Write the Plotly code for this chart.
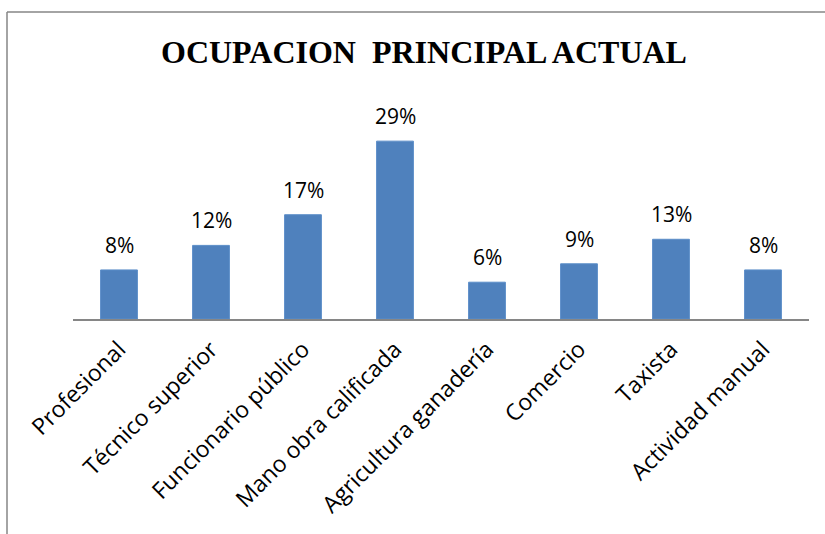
import plotly.graph_objects as go

categories = ["Profesional", "Técnico superior", "Funcionario público", "Mano obra calificada",
              "Agricultura ganadería", "Comercio", "Taxista", "Actividad manual"]
values = [8, 12, 17, 29, 6, 9, 13, 8]
labels = ["8%", "12%", "17%", "29%", "6%", "9%", "13%", "8%"]

W, H = 825, 534
L, R, T, B = 73, 16, 135, 215
pw, ph = W - L - R, H - T - B

fig = go.Figure(go.Bar(
    x=categories, y=values,
    marker=dict(color="#4F81BD", line=dict(color="#5B8DC8", width=1)),
    cliponaxis=False, hoverinfo="skip",
))

def px_x(x):
    return (x - L) / pw

def px_y(y):
    return (H - B - y) / ph

annotations = [dict(text="<b>OCUPACION\u00a0 PRINCIPAL ACTUAL</b>", xref="paper", yref="paper",
                    x=px_x(424), y=px_y(52), xanchor="center", yanchor="middle", showarrow=False,
                    font=dict(family="Liberation Serif", size=32, color="#000000"))]
for c, v, t in zip(categories, values, labels):
    annotations.append(dict(x=c, y=v, text=t, xref="x", yref="y", showarrow=False,
                            xanchor="center", yanchor="bottom", yshift=9,
                            font=dict(family="Open Sans", size=21, color="#000000")))

fig.update_layout(
    width=W, height=H, margin=dict(l=L, r=R, t=T, b=B),
    paper_bgcolor="white", plot_bgcolor="white",
    bargap=0.6, showlegend=False,
    xaxis=dict(showline=True, linecolor="#868686", linewidth=1.5, ticks="", automargin=False,
               tickangle=-45, tickfont=dict(family="Open Sans", size=23, color="#000000"),
               ticklabelstandoff=6, showgrid=False, zeroline=False, fixedrange=True),
    yaxis=dict(visible=False, range=[0, 30], showgrid=False, zeroline=False, automargin=False,
               fixedrange=True),
    shapes=[
        dict(type="line", xref="paper", yref="paper", x0=px_x(7), x1=px_x(7), y0=px_y(560), y1=px_y(12),
             line=dict(color="#868686", width=1.5)),
        dict(type="line", xref="paper", yref="paper", x0=px_x(7), x1=px_x(840), y0=px_y(12), y1=px_y(12),
             line=dict(color="#868686", width=1.5)),
    ],
    annotations=annotations,
)

fig.write_html("out.html", config={"displayModeBar": False},
               post_script="document.body.style.margin='0';document.body.style.overflow='hidden';")
